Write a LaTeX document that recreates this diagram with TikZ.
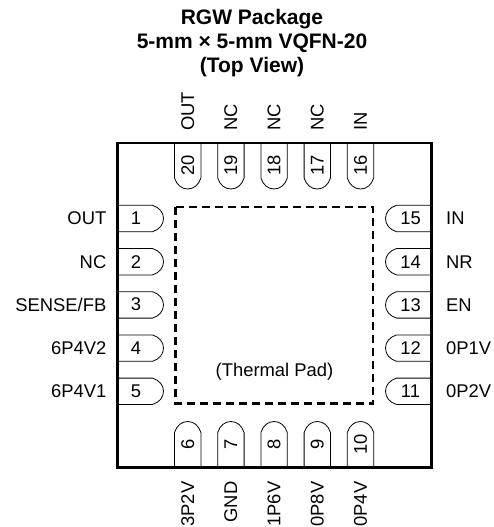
\documentclass[tikz,border=0pt]{standalone}
\usepackage{fontspec}
\setmainfont{Liberation Sans}
\tikzset{
    pintext/.style={inner sep=0pt, font=\fontsize{18.4}{19}\selectfont},
    pinleft/.style={pintext, anchor=east},
    pinright/.style={pintext, anchor=west},
    pinup/.style={pintext, rotate=90, anchor=west},
    pindown/.style={pintext, rotate=90, anchor=east},
    titletext/.style={inner sep=0pt, anchor=base, font=\fontsize{21}{24}\selectfont\bfseries},
    pinshape/.pic={
        \draw[black, line width=0.8pt] (0,-13.2) -- (35,-13.2) .. controls (42,-11) and (46,-6) .. (46,0) .. controls (46,6) and (42,11) .. (35,13.2) -- (0,13.2);
    }
}
\begin{document}
\begin{tikzpicture}[x=1pt, y=-1pt]
        \useasboundingbox (0,0) rectangle (493,527);

        \node[titletext] (title1) at (252,25) {RGW Package};
        \node[titletext] (title2) at (252,48.5) {5-mm × 5-mm VQFN-20};
        \node[titletext] (title3) at (252,72) {(Top View)};

        \pic at (117.5,218.5) {pinshape};
        \pic at (117.5,261.7) {pinshape};
        \pic at (117.5,304.9) {pinshape};
        \pic at (117.5,348.1) {pinshape};
        \pic at (117.5,391.3) {pinshape};

        \pic[rotate=90] at (187.7,467.5) {pinshape};
        \pic[rotate=90] at (230.9,467.5) {pinshape};
        \pic[rotate=90] at (274.1,467.5) {pinshape};
        \pic[rotate=90] at (317.3,467.5) {pinshape};
        \pic[rotate=90] at (360.5,467.5) {pinshape};

        \pic[rotate=180] at (431.5,391.3) {pinshape};
        \pic[rotate=180] at (431.5,348.1) {pinshape};
        \pic[rotate=180] at (431.5,304.9) {pinshape};
        \pic[rotate=180] at (431.5,261.7) {pinshape};
        \pic[rotate=180] at (431.5,218.5) {pinshape};

        \pic[rotate=-90] at (360.5,143) {pinshape};
        \pic[rotate=-90] at (317.3,143) {pinshape};
        \pic[rotate=-90] at (274.1,143) {pinshape};
        \pic[rotate=-90] at (230.9,143) {pinshape};
        \pic[rotate=-90] at (187.7,143) {pinshape};

        \node[pintext] (num1) at (136,218.5) {1};
        \node[pintext] (num2) at (136,261.7) {2};
        \node[pintext] (num3) at (136,304.4) {3};
        \node[pintext] (num4) at (136,348.1) {4};
        \node[pintext] (num5) at (136,390.8) {5};
        \node[pintext, rotate=90] (num6) at (187.7,444) {6};
        \node[pintext, rotate=90] (num7) at (230.9,444) {7};
        \node[pintext, rotate=90] (num8) at (274.1,444) {8};
        \node[pintext, rotate=90] (num9) at (317.3,444) {9};
        \node[pintext, rotate=90] (num10) at (360.5,444) {10};
        \node[pintext] (num11) at (410.5,391.3) {11};
        \node[pintext] (num12) at (410.5,348.1) {12};
        \node[pintext] (num13) at (410.5,304.9) {13};
        \node[pintext] (num14) at (410.5,261.7) {14};
        \node[pintext] (num15) at (410.5,218.5) {15};
        \node[pintext, rotate=90] (num16) at (360.5,165) {16};
        \node[pintext, rotate=90] (num17) at (317.3,165) {17};
        \node[pintext, rotate=90] (num18) at (274.1,165) {18};
        \node[pintext, rotate=90] (num19) at (230.9,165) {19};
        \node[pintext, rotate=90] (num20) at (187.7,165) {20};

        \node[pinleft] (out1) at (106.5,218.5) {OUT};
        \node[pinleft] (nc2) at (106.5,261.7) {NC};
        \node[pinleft] (sense) at (106.5,304.9) {SENSE/FB};
        \node[pinleft] (vsix2) at (106.5,348.1) {6P4V2};
        \node[pinleft] (vsix1) at (106.5,391.3) {6P4V1};

        \node[pindown] (vthree) at (187.7,481.5) {3P2V};
        \node[pindown] (gnd) at (230.9,481.5) {GND};
        \node[pindown] (vone) at (274.1,481.5) {1P6V};
        \node[pindown] (veight) at (317.3,481.5) {0P8V};
        \node[pindown] (vfour) at (360.5,481.5) {0P4V};

        \node[pinright] (ptwo) at (446,391.3) {0P2V};
        \node[pinright] (pone) at (446,348.1) {0P1V};
        \node[pinright] (en) at (446,304.9) {EN};
        \node[pinright] (nr) at (446,261.7) {NR};
        \node[pinright] (in15) at (446,218.5) {IN};

        \node[pinup] (in16) at (360.5,131) {IN};
        \node[pinup] (nc17) at (317.3,131) {NC};
        \node[pinup] (nc18) at (274.1,131) {NC};
        \node[pinup] (nc19) at (230.9,131) {NC};
        \node[pinup] (out20) at (187.7,131) {OUT};

        \node[pintext] (pad) at (274.5,372) {(Thermal Pad)};

        \draw[black, line width=2.2pt, dash pattern=on 8pt off 5pt] (175.5,207) rectangle (373,403.5);

        \draw[black, line width=2.6pt] (117.5,143) rectangle (431.5,467.5);
    \end{tikzpicture}
\end{document}
